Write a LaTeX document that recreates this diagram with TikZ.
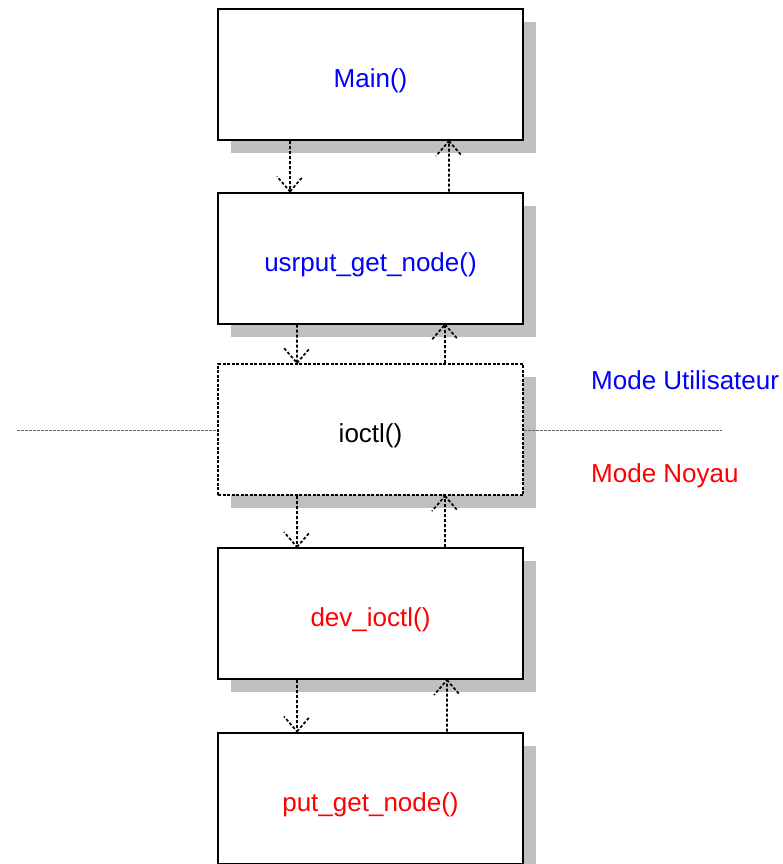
\documentclass[tikz,border=0pt]{standalone}
\usepackage{fontspec}
\setmainfont{Liberation Sans}
\usetikzlibrary{shadows}
\definecolor{shadowgray}{RGB}{192,192,192}
\definecolor{userblue}{RGB}{0,0,255}
\definecolor{kernelred}{RGB}{255,0,0}

% downward call: dashed line with an open dashed head at the lower box
\newcommand{\callarrow}[3]{%
  \draw[link] ([xshift=#3]#1.south) -- ([xshift=#3]#2.north)
    -- ++(-13,-15) ([xshift=#3]#2.north) -- ++(13,-15);}
% upward return: dashed line with an open dashed head at the upper box
\newcommand{\retarrow}[3]{%
  \draw[link] ([xshift=#3]#2.north) -- ([xshift=#3]#1.south)
    -- ++(-13,15) ([xshift=#3]#1.south) -- ++(13,15);}

\begin{document}
\begin{tikzpicture}[x=1pt,y=-1pt,
  every node/.style={font=\fontsize{26}{30}\selectfont},
  box/.style={draw, line width=2pt, fill=white,
    minimum width=305pt, minimum height=131pt, inner sep=0pt,
    text height=26pt, text depth=0pt,
    drop shadow={shadow xshift=13pt, shadow yshift=-13pt,
      fill=shadowgray, opacity=1}},
  dashedbox/.style={box, dash pattern=on 3pt off 1.5pt},
  link/.style={line width=1.7pt, dash pattern=on 3pt off 2pt},
  divider/.style={line width=0.8pt, black!60, dash pattern=on 3pt off 1pt},
  modelabel/.style={anchor=base west, inner sep=0pt},
]
\useasboundingbox (0,0) rectangle (783,864);

% call chain
\node[box, text=userblue]    (main)  at (370.5,74.5)  {Main()};
\node[box, text=userblue]    (usr)   at (370.5,258)   {usrput\_get\_node()};
\node[dashedbox]             (ioctl) at (370.5,429.5) {ioctl()};
\node[box, text=kernelred]   (dev)   at (370.5,613.5) {dev\_ioctl()};
\node[box, text=kernelred]   (put)   at (370.5,798)   {put\_get\_node()};

% user / kernel boundary
\coordinate (divL) at (17,430);
\coordinate (divR) at (722,430);
\draw[divider] (divL) -- (ioctl.west |- divL);
\draw[divider] (ioctl.east |- divR) -- (divR);
\node[modelabel, text=userblue]  (umode) at (591,389) {Mode Utilisateur};
\node[modelabel, text=kernelred] (kmode) at (591,482) {Mode Noyau};

% calls and returns
\callarrow{main}{usr}{-80.5pt}
\retarrow{main}{usr}{78.5pt}
\callarrow{usr}{ioctl}{-73.5pt}
\retarrow{usr}{ioctl}{74.5pt}
\callarrow{ioctl}{dev}{-73.5pt}
\retarrow{ioctl}{dev}{74.5pt}
\callarrow{dev}{put}{-73.5pt}
\retarrow{dev}{put}{76.5pt}
\end{tikzpicture}
\end{document}
